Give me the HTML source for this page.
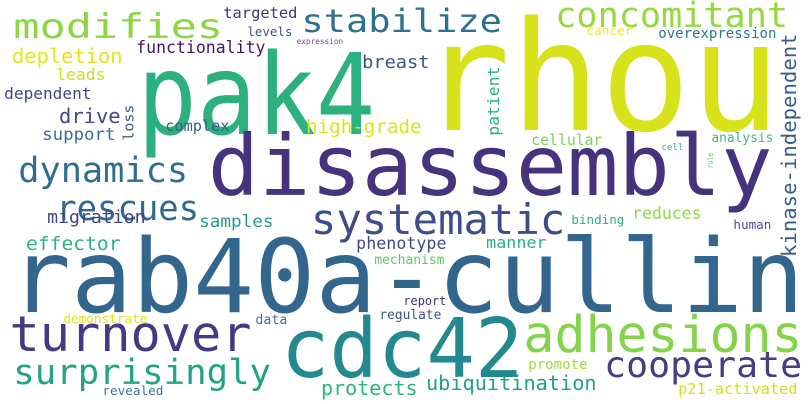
<!DOCTYPE html>
<html><head><meta charset="utf-8"><style>
html,body{margin:0;padding:0;background:#fff}
svg{display:block}
text{font-family:"DejaVu Sans Mono","Liberation Mono",monospace}
</style></head><body>
<svg id="cloud" width="808" height="404" viewBox="0 0 808 404" xmlns="http://www.w3.org/2000/svg">
<rect width="808" height="404" fill="#fff"/>
</svg>
<script>
const words=["rhou","pak4","disassembly","rab40a-cullin","cdc42","modifies","stabilize","concomitant","dynamics","rescues","systematic","turnover","adhesions","surprisingly","cooperate","targeted","levels","expression","functionality","depletion","leads","dependent","drive","support","complex","breast","high-grade","cancer","overexpression","cellular","analysis","cell","migration","samples","effector","phenotype","manner","mechanism","report","regulate","demonstrate","data","protects","revealed","binding","reduces","human","promote","ubiquitination","p21-activated","loss","patient","kinase-independent","role"];
const lefts=[428,143,212,15,285,15,303,557,20,58,313,12,526,15,606,224,248,297,137,13,57,5,60,43,166,363,307,587,659,532,712,662,48,200,27,357,487,375,404,380,64,256,322,103,572,633,734,529,427,679,123,487,781,707];
const baselines=[130,134,195,312,377,38,32,27,182,220,234,351,352,384,377,18,36,44,53,63,80,99,123,140,131,68,133,35,38,145,142,150,223,227,250,249,248,264,305,319,323,324,395,395,224,219,229,369,390,394,140,135,256,168];
const sizes=[152,112,84,102,82,34,32,35,35,35,42,49,51,35,36,15,12.5,7.7,16.4,20,16,16,20,17,15,18,19,12.5,14,15,13,9,18,17,19,16.5,16,13,12,13,12.5,13,20,12.5,12.5,16.5,12.5,14,20,15,14.5,16,20.5,8];
const widths=[348,229,558,786,236,207,198,230,167,140,251,238,275,255,195,73,44,46,128,109,48,86,60,72,63,66,114,45,117,70,61,21,97,73,93,89,59,69,42,61,83,31,95,60,52,68,37,58,169,118,35,68,222,15];
const colors=["#d7e21a","#2cb17e","#46337e","#33668d","#23898e","#8cd646","#2d718e","#95d840","#2e6e8e","#31688e","#3e4c8a","#443a83","#84d44b","#22a386","#433e85","#46337e","#3b528b","#7a4a98","#471365","#e5e419","#c8e020","#404688","#3e4a89","#3a6e96","#355f8d","#39568c","#dde318","#f2e52a","#2a788e","#7ad151","#3fbc73","#27ad81","#414487","#27998b","#2db27d","#3f4788","#2ab07f","#5ec962","#472d7b","#3b528b","#dde318","#4a6fa5","#2fb47c","#3e71a0","#2ab07f","#90d743","#5b4694","#9fda3a","#1fa187","#cde11d","#39568c","#29af7f","#375b8d","#5ec962"];
const vertical=[0,0,0,0,0,0,0,0,0,0,0,0,0,0,0,0,0,0,0,0,0,0,0,0,0,0,0,0,0,0,0,0,0,0,0,0,0,0,0,0,0,0,0,0,0,0,0,0,0,0,1,1,1,1];
const NS="http://www.w3.org/2000/svg";
const svg=document.getElementById('cloud');
for(let i=0;i<words.length;i++){
  const t=document.createElementNS(NS,'text');
  
  
  const fs=sizes[i];
  t.setAttribute('font-size',fs);
  t.setAttribute('fill',colors[i]);
  t.setAttribute('textLength',widths[i]+0.08*fs);
  t.setAttribute('lengthAdjust','spacingAndGlyphs');
  if(vertical[i]){
    const bx=lefts[i]+fs*0.74;
    const by=baselines[i]+0.05*fs;
    t.setAttribute('x',0);t.setAttribute('y',0);
    t.setAttribute('transform','translate('+bx+','+by+') rotate(-90)');
  }else{
    t.setAttribute('x',lefts[i]-0.05*fs);
    t.setAttribute('y',baselines[i]);
  }
  t.textContent=words[i];
  svg.appendChild(t);
}
</script>
</body></html>
